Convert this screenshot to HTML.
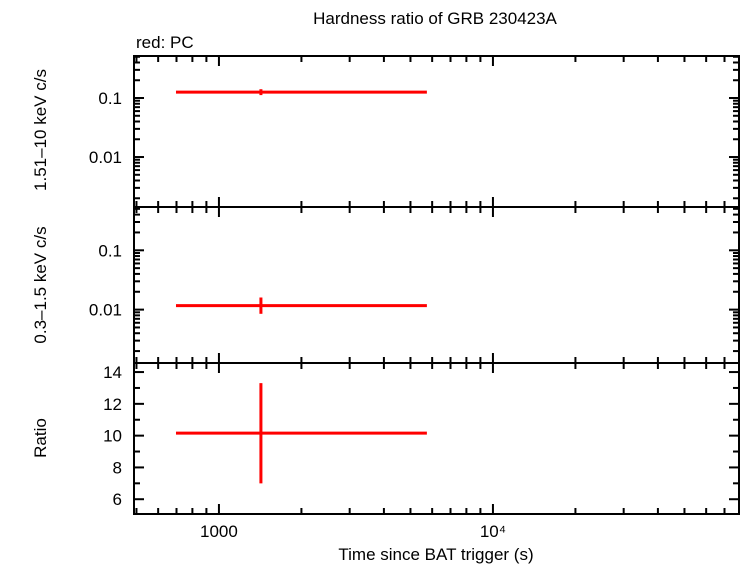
<!DOCTYPE html>
<html><head><meta charset="utf-8"><style>
body{margin:0;background:#fff}
svg text{font-family:"Liberation Sans",sans-serif;fill:#000}
</style></head><body>
<svg id="c" width="742" height="566" xmlns="http://www.w3.org/2000/svg">
<text x="435" y="24" font-size="17" text-anchor="middle">Hardness ratio of GRB 230423A</text>
<text x="136" y="48" font-size="17">red: PC</text>
<text x="46" y="130" font-size="17" text-anchor="middle" transform="rotate(-90 46 130)">1.51–10 keV c/s</text>
<text x="46" y="285" font-size="17" text-anchor="middle" transform="rotate(-90 46 285)">0.3–1.5 keV c/s</text>
<text x="46" y="438" font-size="17" text-anchor="middle" transform="rotate(-90 46 438)">Ratio</text>
<text x="436" y="560" font-size="17" text-anchor="middle">Time since BAT trigger (s)</text>
<g id="g"></g>
</svg>
<script>
const xStart=[697], xEnd=[5740], xCenter=[1423];
const hardVal=[0.126], hardLo=[0.112], hardHi=[0.141];
const softVal=[0.0117], softLo=[0.0085], softHi=[0.016];
const ratioVal=[10.16], ratioLo=[7.0], ratioHi=[13.3];
const xTickLabels=["1000","10⁴"], xTickVals=[1000,10000];
const logTickLabels=["0.1","0.01"], logTickVals=[0.1,0.01];
const ratioTickVals=[6,8,10,12,14];

const L=134,R=739;
const X=v=>L+(Math.log10(v)-2.69)/(4.898-2.69)*(R-L);
const panels=[
 {t:56,b:207,log:true,min:-2.847,max:-0.288},
 {t:207,b:363,log:true,min:-2.90,max:-0.27},
 {t:363,b:514,log:false,min:5.07,max:14.57}];
const Yf=p=>v=>p.log? p.b-(Math.log10(v)-p.min)/(p.max-p.min)*(p.b-p.t) : p.b-(v-p.min)/(p.max-p.min)*(p.b-p.t);
const g=document.getElementById('g');
const NS='http://www.w3.org/2000/svg';
function mk(tag,at){const e=document.createElementNS(NS,tag);for(const k in at)e.setAttribute(k,at[k]);g.appendChild(e);return e;}
function line(x1,y1,x2,y2,c,w){return mk('line',{x1,y1,x2,y2,stroke:c,'stroke-width':w});}
panels.forEach((p,i)=>{
 const r=mk('rect',{x:L,y:p.t,width:R-L,height:p.b-p.t,fill:'none',stroke:'#000','stroke-width':2});
 
 
 for(let d=2;d<=4;d++)for(let m=1;m<10;m++){const v=m*Math.pow(10,d);const x=X(v);if(x<L||x>R)continue;const len=m==1?10:6;
  line(x,p.b,x,p.b-len,'#000',2);line(x,p.t,x,p.t+len,'#000',2);}
 const Y=Yf(p);
 if(p.log){
  for(let d=-3;d<=0;d++)for(let m=1;m<10;m++){const v=m*Math.pow(10,d);const y=Y(v);if(y<p.t||y>p.b)continue;const len=m==1?10:6;
   line(L,y,L+len,y,'#000',2);line(R,y,R-len,y,'#000',2);}
  logTickVals.forEach((v,k)=>{const t=mk('text',{x:L-12,y:Y(v)+6,'font-size':17,'text-anchor':'end'});t.textContent=logTickLabels[k];
   
   });
 }else{
  for(let v=6;v<=14;v++){const y=Y(v);const len=v%2==0?10:6;line(L,y,L+len,y,'#000',2);line(R,y,R-len,y,'#000',2);}
  ratioTickVals.forEach(v=>{const t=mk('text',{x:L-12,y:Y(v)+6,'font-size':17,'text-anchor':'end'});t.textContent=v;
   
   });
 }
});
xTickVals.forEach((v,k)=>{const t=mk('text',{x:X(v),y:537,'font-size':17,'text-anchor':'middle'});t.textContent=xTickLabels[k];
 
 });
const series=[[hardVal,hardLo,hardHi],[softVal,softLo,softHi],[ratioVal,ratioLo,ratioHi]];
series.forEach((s,i)=>{const Y=Yf(panels[i]);
 for(let k=0;k<xStart.length;k++){
  const h=line(X(xStart[k]),Y(s[0][k]),X(xEnd[k]),Y(s[0][k]),'#f00',3);
  
  
  const v=line(X(xCenter[k]),Y(s[1][k]),X(xCenter[k]),Y(s[2][k]),'#f00',3);
  
  
 }});
</script>
</body></html>
